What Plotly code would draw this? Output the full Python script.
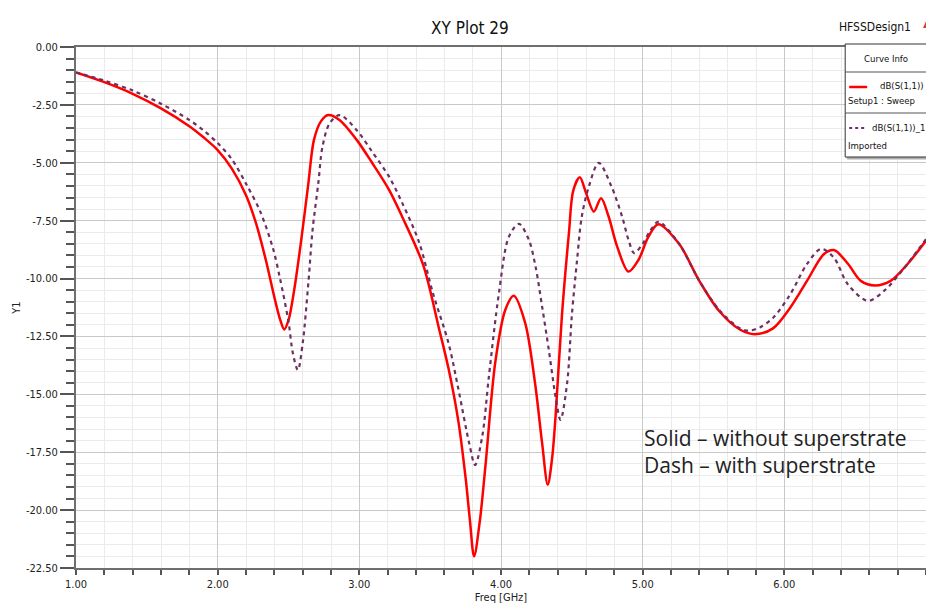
import plotly.graph_objects as go

# ---------------- data ----------------
solid_freq = [1.00, 1.20, 1.40, 1.60, 1.80, 1.90, 2.00, 2.10, 2.20, 2.27, 2.34, 2.40, 2.44, 2.47,
              2.50, 2.54, 2.59, 2.64, 2.68, 2.73, 2.78, 2.86, 2.98, 3.09, 3.21, 3.30, 3.45,
              3.56, 3.63, 3.70, 3.75, 3.78, 3.81, 3.85, 3.89, 3.96, 4.03, 4.09, 4.17, 4.24, 4.29,
              4.33, 4.36, 4.385, 4.43, 4.48, 4.51, 4.556, 4.60, 4.655, 4.706, 4.76, 4.82,
              4.90, 4.97, 5.04, 5.11, 5.257, 5.40, 5.54, 5.686, 5.79, 5.92, 6.04, 6.16,
              6.28, 6.35, 6.45, 6.54, 6.64, 6.75, 6.87, 7.00]
solid_db = [-1.10, -1.52, -2.02, -2.65, -3.42, -3.90, -4.45, -5.25, -6.40, -7.60, -9.20, -10.80, -11.75, -12.20,
            -11.80, -10.50, -8.33, -5.90, -4.00, -3.20, -2.94, -3.15, -4.00, -5.00, -6.17, -7.30, -9.40,
            -12.10, -13.90, -16.20, -18.60, -20.40, -22.00, -20.50, -18.10, -13.60, -11.36, -10.74, -11.90, -14.50, -17.10,
            -18.90, -17.80, -15.96, -11.60, -8.00, -6.20, -5.63, -6.30, -7.11, -6.53, -7.33, -8.62,
            -9.70, -9.20, -8.20, -7.65, -8.50, -10.10, -11.40, -12.20, -12.40, -12.15, -11.27, -10.10,
            -8.94, -8.77, -9.37, -10.10, -10.30, -10.10, -9.37, -8.36]

dash_freq = [1.00, 1.20, 1.40, 1.60, 1.80, 1.90, 2.00, 2.10, 2.20, 2.30, 2.39, 2.44, 2.50, 2.53,
             2.566, 2.60, 2.64, 2.67, 2.71, 2.74, 2.79, 2.86, 2.98, 3.09, 3.21, 3.30, 3.42,
             3.52, 3.63, 3.70, 3.775, 3.817, 3.868, 3.915, 3.986, 4.056, 4.127, 4.197, 4.244,
             4.29, 4.338, 4.385, 4.42, 4.467, 4.50, 4.537, 4.57, 4.62, 4.69, 4.78, 4.855, 4.90,
             4.94, 5.00, 5.05, 5.11, 5.257, 5.40, 5.54, 5.686, 5.75, 5.83, 5.92, 6.04, 6.16, 6.26,
             6.35, 6.45, 6.59, 6.71, 6.83, 7.00]
dash_db = [-1.10, -1.45, -1.88, -2.45, -3.15, -3.60, -4.15, -4.85, -5.90, -7.10, -8.69, -10.00, -11.86, -13.20,
           -13.95, -12.80, -10.20, -7.90, -5.90, -4.30, -3.30, -2.94, -3.58, -4.52, -5.60, -6.70, -8.40,
           -10.64, -12.80, -14.80, -17.10, -18.05, -16.80, -14.20, -10.60, -8.19, -7.64, -8.33, -9.49,
           -11.20, -13.10, -15.10, -16.10, -14.50, -11.60, -9.20, -7.33, -6.03, -5.00, -6.03, -7.33, -8.33,
           -8.90, -8.50, -7.97, -7.55, -8.50, -10.10, -11.35, -12.15, -12.25, -12.10, -11.70, -10.70, -9.37, -8.72,
           -9.10, -10.26, -10.96, -10.50, -9.67, -8.30]

x_tick_vals = [1, 2, 3, 4, 5, 6, 7]
x_tick_text = ["1.00", "2.00", "3.00", "4.00", "5.00", "6.00", "7.00"]
y_tick_vals = [0, -2.5, -5, -7.5, -10, -12.5, -15, -17.5, -20, -22.5]
y_tick_text = ["0.00", "-2.50", "-5.00", "-7.50", "-10.00", "-12.50", "-15.00", "-17.50", "-20.00", "-22.50"]

series_names = ["dB(S(1,1))", "dB(S(1,1))_1"]
series_sub = ["Setup1 : Sweep", "Imported"]

# ---------------- layout helpers (screen pixel -> paper) ----------------
# the page body has an 8px margin, so the figure is drawn 8px smaller and offset
OFF = 8
SCR_W, SCR_H = 934, 610
PLOT_L, PLOT_R, PLOT_T, PLOT_B = 76, 928, 47, 568
W, H = SCR_W - OFF, SCR_H - OFF
L, R, T, B = PLOT_L - OFF, SCR_W - PLOT_R, PLOT_T - OFF, SCR_H - PLOT_B
PW, PH = PLOT_R - PLOT_L, PLOT_B - PLOT_T


def px(x):
    return (x - PLOT_L) / PW


def py(y):
    return (PLOT_B - y) / PH


NARROW = "Liberation Sans Narrow, DejaVu Sans Condensed, Arial Narrow, sans-serif"
RED = "#ff0000"
PURPLE = "#6e2f63"

fig = go.Figure()
fig.add_trace(go.Scatter(x=solid_freq, y=solid_db, mode="lines", name=series_names[0],
                         line=dict(color=RED, width=2.5, shape="spline", smoothing=0.9),
                         showlegend=False))
fig.add_trace(go.Scatter(x=dash_freq, y=dash_db, mode="lines", name=series_names[1],
                         line=dict(color=PURPLE, width=2.2, dash="4px,4px", shape="spline", smoothing=0.9),
                         showlegend=False))

axis_common = dict(
    showline=True, linecolor="#6f6f6f", linewidth=2, mirror=True,
    ticks="outside", tickcolor="#555555", tickwidth=1.5,
    showgrid=True, gridcolor="#c9c9c9", gridwidth=1,
    zeroline=False,
    tickfont=dict(family=NARROW, size=11, color="#222222"),
)

fig.update_xaxes(**axis_common, range=[1, 7], tickvals=x_tick_vals, ticktext=x_tick_text,
                 ticklen=5,
                 minor=dict(dtick=0.2, ticklen=5, tickcolor="#555555", showgrid=True,
                            gridcolor="#ebebeb", ticks="outside"),
                 title=dict(text="Freq [GHz]", font=dict(family=NARROW, size=11, color="#222222"),
                            standoff=1))
fig.update_yaxes(**axis_common, range=[-22.5, 0], tickvals=y_tick_vals, ticktext=y_tick_text,
                 ticklen=14,
                 minor=dict(dtick=0.5, ticklen=8, tickcolor="#555555", showgrid=True,
                            gridcolor="#ebebeb", ticks="outside"),
                 title=dict(text="Y1", font=dict(family=NARROW, size=11, color="#222222"),
                            standoff=3))

shapes = []
annotations = []

# Curve Info box
bx0, bx1, by0, by1 = 847, 930, 44, 157
shapes.append(dict(type="rect", xref="paper", yref="paper", x0=px(bx0 + 2), x1=px(bx1 + 2),
                   y0=py(by0 + 2), y1=py(by1 + 2), line=dict(color="#b0b0b0", width=1), fillcolor="#b0b0b0",
                   layer="above"))
shapes.append(dict(type="rect", xref="paper", yref="paper", x0=px(bx0), x1=px(bx1), y0=py(by0), y1=py(by1),
                   line=dict(color="#333333", width=1), fillcolor="white", layer="above"))
for yy in (72, 113):
    shapes.append(dict(type="line", xref="paper", yref="paper", x0=px(bx0), x1=px(bx1), y0=py(yy), y1=py(yy),
                       line=dict(color="#555555", width=1), layer="above"))
shapes.append(dict(type="line", xref="paper", yref="paper", x0=px(851), x1=px(869), y0=py(87), y1=py(87),
                   line=dict(color=RED, width=2.5), layer="above"))
shapes.append(dict(type="line", xref="paper", yref="paper", x0=px(851), x1=px(869), y0=py(128), y1=py(128),
                   line=dict(color=PURPLE, width=2.2, dash="3px,3px"), layer="above"))


def text(x, y, s, size=10, xanchor="left", family=NARROW, color="#111111"):
    annotations.append(dict(x=px(x), y=py(y), xref="paper", yref="paper", text=s, showarrow=False,
                            xanchor=xanchor, yanchor="middle", font=dict(family=family, size=size, color=color)))


text(888, 58, "Curve Info", 9.5, "center")
text(928, 86, series_names[0], 9.5, "right")
text(848, 100, series_sub[0], 9.5)
text(929, 128, series_names[1], 9.5, "right")
text(848, 145, series_sub[1], 9.5)
text(877, 27, "HFSSDesign1", 12, "center")
text(929, 24, "▲", 9, "center", color="#d04040")

# chart title
text(471, 28, "XY Plot 29", 17, "center", color="#111111")

# note text
NOTE = "Open Sans, Noto Sans, sans-serif"
text(643, 438, "Solid – without superstrate", 21, "left", family=NOTE, color="#222222")
text(643, 465, "Dash – with superstrate", 21, "left", family=NOTE, color="#222222")

fig.update_layout(
    width=W, height=H,
    margin=dict(l=L, r=R, t=T, b=B),
    paper_bgcolor="white", plot_bgcolor="white",
    shapes=shapes, annotations=annotations,
    showlegend=False,
)

fig.write_html("out.html")
